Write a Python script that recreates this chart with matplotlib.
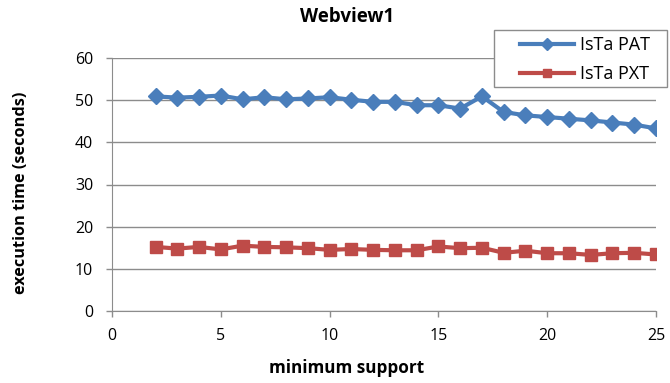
import matplotlib
matplotlib.use("Agg")
import matplotlib.pyplot as plt
from matplotlib.patches import Rectangle

support = list(range(2, 26))
pat = [50.9, 50.6, 50.8, 51.1, 50.2, 50.7, 50.2, 50.4, 50.7, 50.1, 49.6, 49.6,
       48.8, 48.8, 48.0, 50.9, 47.2, 46.4, 46.0, 45.6, 45.2, 44.7, 44.2, 43.3]
pxt = [15.2, 14.8, 15.2, 14.6, 15.5, 15.2, 15.1, 14.9, 14.5, 14.7, 14.5, 14.4,
       14.4, 15.3, 14.9, 15.0, 13.8, 14.3, 13.7, 13.7, 13.3, 13.7, 13.8, 13.4]
series_names = ["IsTa PAT", "IsTa PXT"]

plt.rcParams['font.family'] = ['Open Sans', 'DejaVu Sans']

W, H = 670, 383
fig = plt.figure(figsize=(W / 100, H / 100), dpi=100)
ax = fig.add_axes([112/W, 1 - 311/H, (656-112)/W, (311-58)/H])

blue = "#4a7ebb"
red = "#be4b48"
ax.plot(support, pat, color=blue, lw=3, marker="D", ms=8.5, mec=blue, label=series_names[0], zorder=3)
ax.plot(support, pxt, color=red, lw=3, marker="s", ms=8.3, mec=red, label=series_names[1], zorder=3)

ax.set_xlim(0, 25)
ax.set_ylim(0, 60)
ax.set_xticks(range(0, 26, 5))
ax.set_yticks(range(0, 61, 10))
ax.yaxis.grid(True, color="#8c8c8c", lw=1)
ax.set_axisbelow(True)
for s in ["top", "right"]:
    ax.spines[s].set_visible(False)
ax.spines["left"].set_color("#8c8c8c")
ax.spines["bottom"].set_color("#8c8c8c")
ax.tick_params(axis="both", colors="#8c8c8c", labelcolor="black", labelsize=11.5,
               length=4.5, width=1)
ax.tick_params(axis="y", pad=9)
ax.tick_params(axis="x", pad=8)

fig.text(347/W, 1 - 368/H, "minimum support", fontsize=12.3, fontweight="bold",
         ha="center", va="center")
fig.text(21/W, 1 - 193/H, "execution time (seconds)", fontsize=11.7, fontweight="bold",
         ha="center", va="center", rotation=90)
fig.text(347/W, 1 - 17/H, "Webview1", fontsize=13.5, fontweight="bold", ha="center", va="center")

# legend box drawn separately so its padding can be set freely
box = Rectangle((494/W, 1 - 87/H), (667-494)/W, (87-30)/H, transform=fig.transFigure,
                facecolor="white", edgecolor="#8c8c8c", lw=1, zorder=4)
fig.add_artist(box)
leg = fig.legend(loc="upper left", bbox_to_anchor=(514/W, 1 - 30/H),
                 frameon=False, fontsize=13, handlelength=3.0,
                 borderpad=0.35, labelspacing=0.6, handletextpad=0.3,
                 borderaxespad=0, markerscale=0.7)
leg.set_zorder(5)

fig.savefig("out.png", dpi=100)
